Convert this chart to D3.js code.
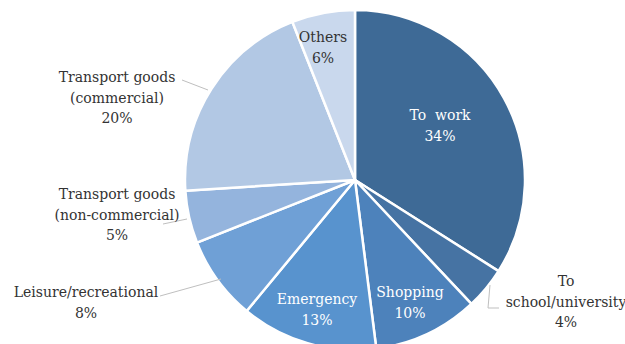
<!DOCTYPE html>
<html>
<head>
<meta charset="utf-8">
<script src="https://cdn.jsdelivr.net/npm/d3@7"></script>
<style>
  body { margin: 0; background: #fff; }
</style>
</head>
<body>
<svg id="chart" width="625" height="344"></svg>
<script>
// Trip purposes, clockwise from 12 o'clock
var categories = ["To work", "To school/university", "Shopping", "Emergency",
    "Leisure/recreational", "Transport goods (non-commercial)",
    "Transport goods (commercial)", "Others"];
var shares = [34, 4, 10, 13, 8, 5, 20, 6];
var colors = ["#3e6a96", "#4673a3", "#4d82bb", "#5893ce", "#6fa0d6",
    "#94b4dd", "#b2c8e4", "#c9d8ed"];

// label lines per slice and where they sit; inside labels are white
var labelLines = [
    ["To  work", "34%"],
    ["To", "school/university", "4%"],
    ["Shopping", "10%"],
    ["Emergency", "13%"],
    ["Leisure/recreational", "8%"],
    ["Transport goods", "(non-commercial)", "5%"],
    ["Transport goods", "(commercial)", "20%"],
    ["Others", "6%"]
];
var labelPos = [[440, 120], [566, 286], [410, 297], [317, 304],
    [86, 297], [117, 199], [117, 82], [323, 42]];
var inside = [true, false, true, true, false, false, false, true];
var leaders = [null,
    [[490, 285], [488, 308], [499, 308]],
    null, null,
    [[221, 279], [160, 296]],
    [[187, 219], [163, 224]],
    [[208, 90], [182, 80]],
    null];

var svg = d3.select("#chart"),
    cx = 355,
    cy = 180,
    radius = 170;

var pie = d3.pie().sort(null).value(function (d) { return d; });
var arc = d3.arc().innerRadius(0).outerRadius(radius);

var g = svg.append("g").attr("transform", "translate(" + cx + "," + cy + ")");

g.selectAll("path")
    .data(pie(shares))
    .enter().append("path")
    .attr("d", arc)
    .attr("fill", function (d, i) { return colors[i]; })
    .attr("stroke", "#fff")
    .attr("stroke-width", 2.5)
    .attr("stroke-linejoin", "round");

// leader lines
leaders.forEach(function (pts) {
    if (!pts) {
        return;
    }
    svg.append("path")
        .attr("d", d3.line()(pts))
        .attr("fill", "none")
        .attr("stroke", "#bfbfbf")
        .attr("stroke-width", 1);
});

// labels
labelLines.forEach(function (lines, i) {
    var t = svg.append("text")
        .attr("text-anchor", "middle")
        .style("font-family", "\"DejaVu Serif\", \"Noto Serif\", Georgia, serif")
        .style("font-size", "14px")
        .attr("fill", inside[i] && i !== 7 ? "#fff" : "#333");
    lines.forEach(function (s, k) {
        t.append("tspan")
            .attr("x", labelPos[i][0])
            .attr("y", labelPos[i][1] + k * 20.5)
            .style("white-space", "pre")
            .text(s);
    });
});
</script>
</body>
</html>
